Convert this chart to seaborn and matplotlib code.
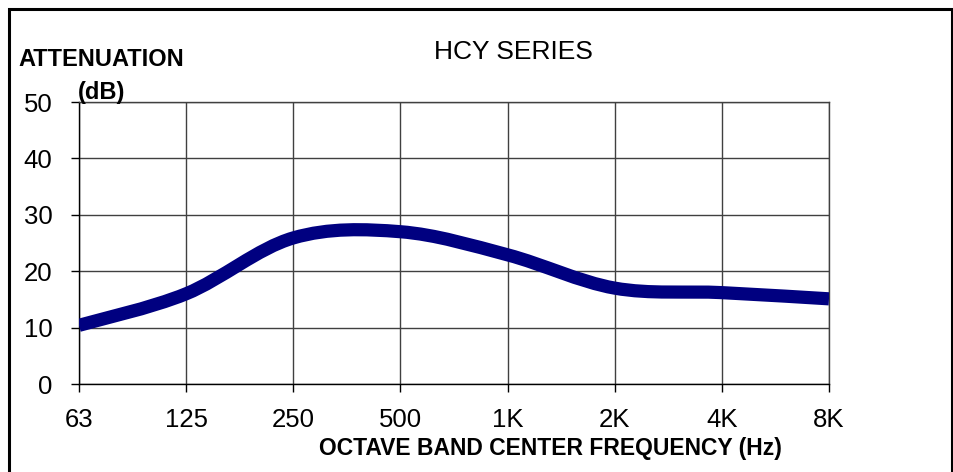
import numpy as np
import matplotlib
matplotlib.use("Agg")
import matplotlib.pyplot as plt
from matplotlib.path import Path
from matplotlib.patches import PathPatch, Rectangle
import seaborn as sns

# octave band data
freq_labels = ["63", "125", "250", "500", "1K", "2K", "4K", "8K"]
attenuation = [10.4, 16.0, 25.9, 27.0, 22.9, 17.0, 16.2, 15.1]
y_ticks = [0, 10, 20, 30, 40, 50]

sns.set_theme(style="white")
plt.rcParams["font.family"] = ["Liberation Sans", "DejaVu Sans"]
plt.rcParams["text.color"] = "black"
plt.rcParams["xtick.color"] = "black"
plt.rcParams["ytick.color"] = "black"

fig = plt.figure(figsize=(9.54, 4.72), dpi=100)
ax = fig.add_axes([79 / 954, 88 / 472, 750 / 954, 282 / 472])

# smooth line (Catmull-Rom style bezier through the points, like a spreadsheet "smoothed line")
xs = np.arange(len(attenuation), dtype=float)
ys = np.array(attenuation, dtype=float)
px = np.concatenate([[xs[0]], xs, [xs[-1]]])
py = np.concatenate([[ys[0]], ys, [ys[-1]]])
verts = [(xs[0], ys[0])]
codes = [Path.MOVETO]
for i in range(len(xs) - 1):
    j = i + 1
    c1 = (px[j] + (px[j + 1] - px[j - 1]) / 6, py[j] + (py[j + 1] - py[j - 1]) / 6)
    c2 = (px[j + 1] - (px[j + 2] - px[j]) / 6, py[j + 1] - (py[j + 2] - py[j]) / 6)
    verts += [c1, c2, (xs[i + 1], ys[i + 1])]
    codes += [Path.CURVE4] * 3
ax.add_patch(PathPatch(Path(verts, codes), facecolor="none", edgecolor="#000080",
                       lw=9.5, capstyle="butt", joinstyle="round", zorder=3))

ax.set_xlim(0, len(freq_labels) - 1)
ax.set_ylim(0, 50)
ax.set_xticks(xs)
ax.set_xticklabels(freq_labels)
ax.set_yticks(y_ticks)
ax.grid(True, color="#404040", lw=1.0)
for s in ax.spines.values():
    s.set_visible(True)
    s.set_color("#404040")
    s.set_linewidth(1.0)
ax.spines["left"].set_color("black")
ax.spines["bottom"].set_color("black")
ax.tick_params(axis="both", which="major", length=6, width=1.0, color="black",
               direction="out", labelsize=18.5, labelcolor="black", bottom=True, left=True)
ax.tick_params(axis="x", pad=11)
ax.tick_params(axis="y", pad=13)

fig.text(513 / 954, 1 - 52 / 472, "HCY SERIES", ha="center", va="center", fontsize=19, color="black")
fig.text(18 / 954, 1 - 60 / 472, "ATTENUATION", ha="left", va="center", fontsize=17, fontweight="bold")
fig.text(78 / 954, 1 - 92 / 472, "(dB)", ha="left", va="center", fontsize=17, fontweight="bold")
fig.text(550 / 954, 1 - 448 / 472, "OCTAVE BAND CENTER FREQUENCY (Hz)", ha="center", va="center",
         fontsize=16.5, fontweight="bold")

# outer frame (bottom edge cut off in the original)
fig.patches.append(Rectangle((9 / 954, -0.05), 943 / 954, 1 - 9 / 472 + 0.05, transform=fig.transFigure,
                             fill=False, edgecolor="black", lw=2.2))

fig.savefig("out.png", dpi=100)
